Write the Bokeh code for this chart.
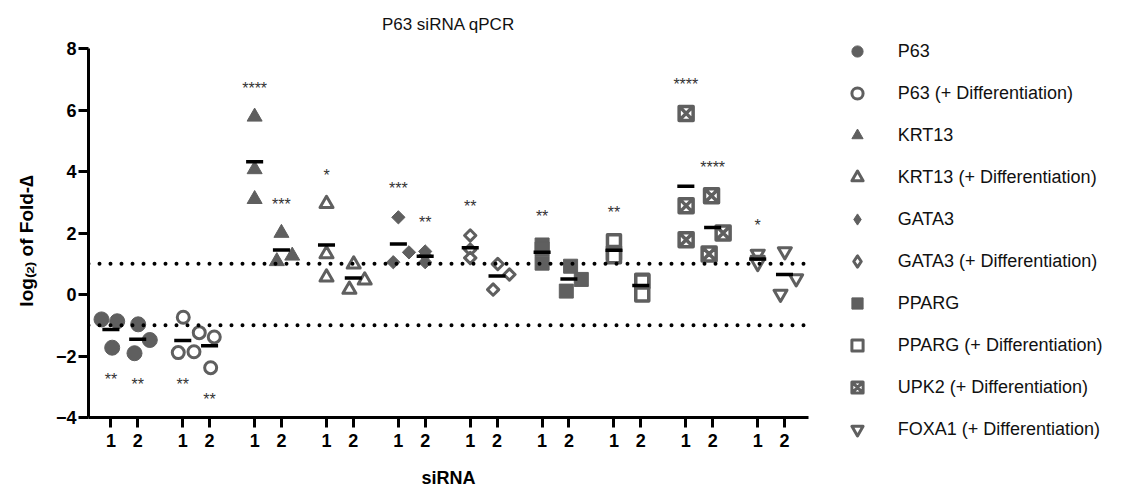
import numpy as np
from bokeh.plotting import figure
from bokeh.layouts import row
from bokeh.models import Range1d, FixedTicker, Span, Legend, LegendItem, ColumnDataSource
from bokeh.core.properties import value
from bokeh.embed import file_html
from bokeh.resources import INLINE

# ---------------- data ----------------
TITLE = "P63 siRNA qPCR"
X_LABEL = "siRNA"
Y_LABEL = "log\u208d\u2082\u208e of Fold-\u2206"
SIRNA_LABELS = ["1", "2"]
Y_TICKS = [-4, -2, 0, 2, 4, 6, 8]

SERIES = ["P63", "P63 (+ Differentiation)", "KRT13", "KRT13 (+ Differentiation)",
          "GATA3", "GATA3 (+ Differentiation)", "PPARG", "PPARG (+ Differentiation)",
          "UPK2 (+ Differentiation)", "FOXA1 (+ Differentiation)"]

p63_si1 = [-0.81, -0.87, -1.73]
p63_si2 = [-0.97, -1.91, -1.48]
p63d_si1 = [-0.74, -1.89, -1.86]
p63d_si2 = [-1.24, -1.38, -2.38]
krt13_si1 = [5.78, 4.07, 3.10]
krt13_si2 = [2.00, 1.08, 1.26]
krt13d_si1 = [2.95, 1.32, 0.56]
krt13d_si2 = [0.98, 0.16, 0.46]
gata3_si1 = [2.51, 1.05, 1.37]
gata3_si2 = [1.40, 1.27, 1.05]
gata3d_si1 = [1.92, 1.46, 1.19]
gata3d_si2 = [0.99, 0.65, 0.16]
pparg_si1 = [1.61, 1.48, 1.02]
pparg_si2 = [0.92, 0.49, 0.11]
ppargd_si1 = [1.73, 1.35, 1.24]
ppargd_si2 = [0.45, 0.42, 0.00]
upk2d_si1 = [5.89, 2.89, 1.78]
upk2d_si2 = [3.21, 2.00, 1.32]
foxa1d_si1 = [1.32, 1.12, 1.02]
foxa1d_si2 = [1.40, 0.52, 0.02]

VALUES = [[p63_si1, p63_si2], [p63d_si1, p63d_si2], [krt13_si1, krt13_si2],
          [krt13d_si1, krt13d_si2], [gata3_si1, gata3_si2], [gata3d_si1, gata3d_si2],
          [pparg_si1, pparg_si2], [ppargd_si1, ppargd_si2], [upk2d_si1, upk2d_si2],
          [foxa1d_si1, foxa1d_si2]]

SIGNIF = [["**", "**"], ["**", "**"], ["****", "***"], ["*", ""], ["***", "**"],
          ["**", ""], ["**", ""], ["**", ""], ["****", "****"], ["*", ""]]

# ---------------- layout / style ----------------
GREY = "#5f5f5f"
PX = 1.2181            # pixels per x unit
GROUP_STEP = 59
PAIR_STEP = 22
# horizontal scatter spread (pixels) so overlapping points stay visible
JITTER_PX = [[[-9.4, 6.3, 1.3], [0.5, -3.2, 12.1]],
             [[0.5, -4.5, 11.2], [-10.3, 4.7, 1.1]],
             [[0, 0, 0], [0, -4.6, 10.8]],
             [[0, 0, 0], [0.4, -3.9, 11.4]],
             [[0, -5.1, 10.6], [0, 0, 0]],
             [[0, 0, 0], [0.7, 12.4, -3.9]],
             [[0, 0, 0], [1.7, 12.4, -2.6]],
             [[0, 0, 0], [1.5, 1.5, 1.5]],
             [[0.3, 0.3, 0.3], [-1.1, 10.5, -3.5]],
             [[0, 0, 0], [0.3, 11.7, -4.0]]]
# marker, filled, size, line width, angle, legend marker
STYLE = [("circle", True, 15, 1, 0, "circle"), ("circle", False, 12, 3, 0, "circle"),
         ("triangle", True, 15, 1, 0, "triangle"), ("triangle", False, 13, 3, 0, "triangle"),
         ("square", True, 9.4, 1, np.pi / 4, "diamond"),
         ("square", False, 8, 3, np.pi / 4, "diamond"),
         ("square", True, 14, 1, 0, "square"), ("square", False, 13, 3.5, 0, "square"),
         ("square_x", False, 14, 3.5, 0, "square_x"),
         ("inverted_triangle", False, 13, 3, 0, "inverted_triangle")]

FONT = "Liberation Sans"

p = figure(width=820, height=490, output_backend="svg", toolbar_location=None,
           x_range=Range1d(-18.39, 572.7), y_range=Range1d(-4, 8),
           min_border_left=88, min_border_right=12, min_border_top=48,
           min_border_bottom=73)
p.frame_align = False
p.outline_line_color = None
p.xgrid.visible = False
p.ygrid.visible = False
p.background_fill_color = "white"

p.title.text = TITLE
p.title.align = "center"
p.title.vertical_align = "top"
p.title.text_font = FONT
p.title.text_font_size = "17px"
p.title.text_font_style = "normal"
p.title.text_color = "#111111"
p.title.standoff = 26

for loc in (1, -1):
    p.add_layout(Span(location=loc, dimension="width", line_color="black",
                      line_width=4, line_dash="0 11", line_cap="round"))

tick_pos = []
tick_lab = {}
bar_x0, bar_x1, bar_y = [], [], []
sig_x, sig_y, sig_t, sig_off = [], [], [], []

for g, name in enumerate(SERIES):
    xs, ys = [], []
    for s in range(2):
        pos = g * GROUP_STEP + s * PAIR_STEP
        tick_pos.append(pos)
        tick_lab[pos] = SIRNA_LABELS[s]
        vals = VALUES[g][s]
        for v, j in zip(vals, JITTER_PX[g][s]):
            xs.append(pos + j / PX)
            ys.append(v)
        m = float(np.mean(vals))
        bar_x0.append(pos - 7)
        bar_x1.append(pos + 7)
        bar_y.append(m)
        if SIGNIF[g][s]:
            sig_x.append(pos)
            sig_t.append(SIGNIF[g][s])
            if m >= 0:
                sig_y.append(max(vals))
                sig_off.append(-28.5)
            else:
                sig_y.append(min(vals))
                sig_off.append(31.5)
    marker, filled, size, lw, ang, _ = STYLE[g]
    p.scatter(x=xs, y=ys, marker=marker, size=size, angle=ang,
              fill_color=GREY if filled else "white", line_color=GREY,
              line_width=lw, line_join="round")

p.segment(x0=bar_x0, y0=bar_y, x1=bar_x1, y1=bar_y, line_color="black", line_width=3.5)

p.text(x="x", y="y", text="t", y_offset="off",
       source=ColumnDataSource(dict(x=sig_x, y=sig_y, t=sig_t, off=sig_off)),
       text_align="center", text_baseline="alphabetic", text_color="#333333",
       text_font=value(FONT), text_font_size="16px")

for ax in (p.xaxis[0], p.yaxis[0]):
    ax.axis_line_width = 3
    ax.axis_line_color = "black"
    ax.major_tick_line_width = 3
    ax.major_tick_line_color = "black"
    ax.major_tick_out = 10
    ax.major_tick_in = 0
    ax.minor_tick_out = 0
    ax.minor_tick_in = 0
    ax.major_label_text_font = FONT
    ax.major_label_text_font_style = "bold"
    ax.major_label_text_font_size = "18px"
    ax.major_label_text_color = "black"
    ax.axis_label_text_font = FONT
    ax.axis_label_text_font_style = "bold"
    ax.axis_label_text_color = "black"

p.xaxis.ticker = FixedTicker(ticks=tick_pos)
p.xaxis.major_label_overrides = tick_lab
p.xaxis.major_label_standoff = 6
p.xaxis.axis_label = X_LABEL
p.xaxis.axis_label_text_font_size = "18px"
p.xaxis.axis_label_standoff = 18

p.yaxis.ticker = FixedTicker(ticks=Y_TICKS)
p.yaxis.major_label_standoff = 2
p.yaxis.axis_label = Y_LABEL + "\u00a0\u00a0\u00a0"
p.yaxis.axis_label_text_font_size = "19px"
p.yaxis.axis_label_standoff = 16

# ---------------- legend (separate panel to the right) ----------------
pl = figure(width=300, height=490, output_backend="svg", toolbar_location=None,
            x_range=Range1d(0, 1), y_range=Range1d(0, 1),
            x_axis_location=None, y_axis_location=None,
            min_border_left=0, min_border_right=0, min_border_top=0, min_border_bottom=0)
pl.frame_align = False
pl.outline_line_color = None
pl.xgrid.visible = False
pl.ygrid.visible = False

items = []
for g, name in enumerate(SERIES):
    marker, filled, size, lw, ang, lmarker = STYLE[g]
    r = pl.scatter(x=[np.nan], y=[np.nan], marker=lmarker,
                   fill_color=GREY if filled else "white", line_color=GREY,
                   line_width=min(lw, 3), line_join="round")
    items.append(LegendItem(label=name, renderers=[r]))

legend = Legend(items=items, location=(22.7, 47.0), glyph_width=28, glyph_height=28,
                spacing=14, label_standoff=27, padding=0, margin=0,
                border_line_color=None, background_fill_alpha=0,
                label_text_font=FONT, label_text_font_size="18px",
                label_text_color="#111111", label_height=28)
pl.add_layout(legend)

layout = row(p, pl)
open("out.html", "w").write(file_html(layout, INLINE))
